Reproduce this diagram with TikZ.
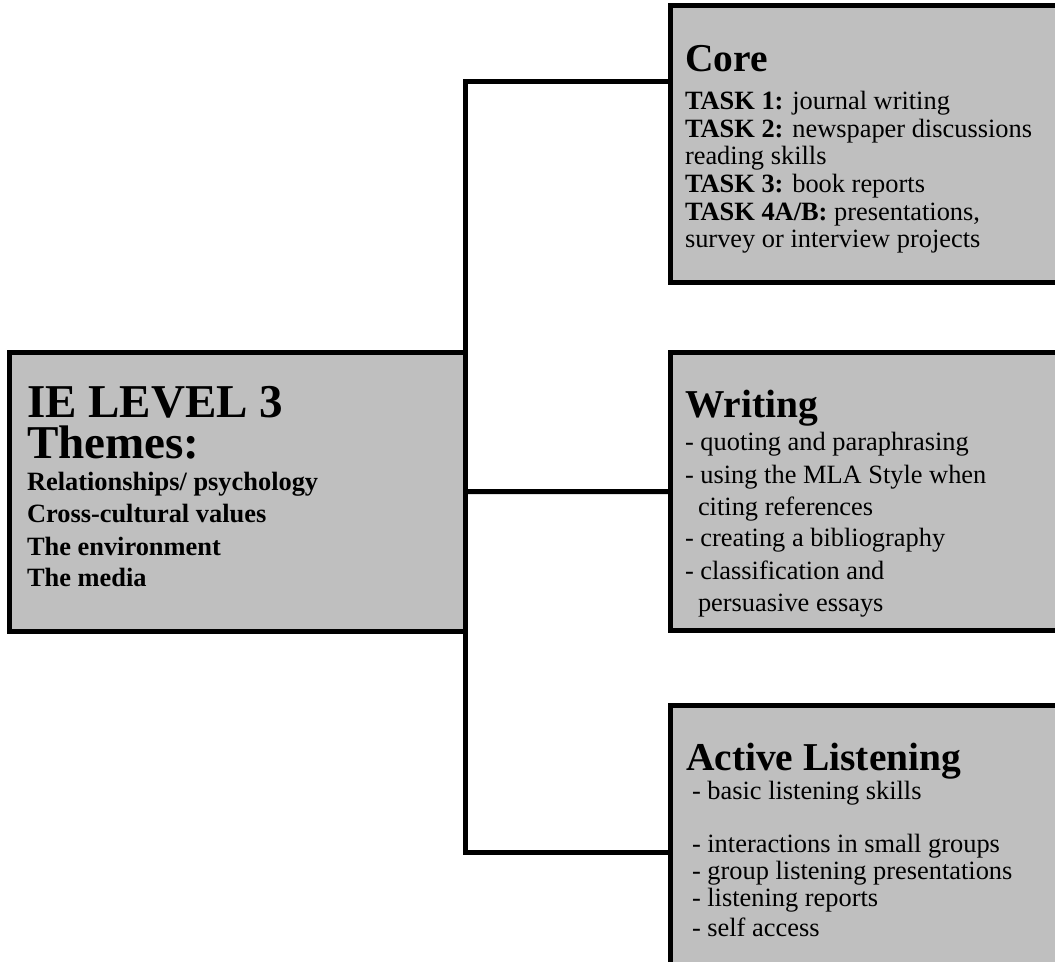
\documentclass[tikz,border=0pt]{standalone}
\usepackage{fontspec}
\setmainfont{Liberation Serif}
\definecolor{boxgray}{RGB}{191,191,191}
\begin{document}
\begin{tikzpicture}[x=0.75pt,y=-0.75pt,
  box/.style={draw=black,fill=boxgray,line width=3.75pt,rectangle,inner sep=0pt,outer sep=0pt},
  conn/.style={line width=3.75pt,line join=miter,draw=black},
  txt/.style={anchor=base west,inner sep=0pt,outer sep=0pt,text=black},
  body/.style={txt,font=\fontsize{19.8}{22}\selectfont},
  ttl/.style={txt,font=\fontsize{29.6}{32}\selectfont\bfseries},
  bigttl/.style={txt,align=left,font=\fontsize{35.3}{30.75}\selectfont\bfseries},
  item/.style={txt,font=\fontsize{19.8}{22}\selectfont\bfseries}]
\useasboundingbox (0,0) rectangle (1055,962);
\clip (0,0) rectangle (1055,962);
% boxes
\node[box,minimum width=341.5pt,minimum height=209.6pt] (main) at (237.35,491.75) {};
\node[box,minimum width=311.25pt,minimum height=207.75pt] (core) at (877.5,144) {};
\node[box,minimum width=311.25pt,minimum height=208.5pt] (writing) at (877.5,491.5) {};
\node[box,minimum width=311.25pt,minimum height=221.25pt] (active) at (877.5,852.5) {};
% connectors
\coordinate (jt) at (465.5,82);
\coordinate (jb) at (465.5,852.5);
\draw[conn] (core.west |- jt) -- (jt) -- (jb) -- (active.west);
\draw[conn] (main.east) -- (writing.west);
% main text
\node[bigttl] (m1) at (27,458) {IE LEVEL 3\\Themes:};
\node[item] (m3) at (27,490.7) {Relationships/ psychology};
\node[item] (m4) at (27,522.7) {Cross-cultural values};
\node[item] (m5) at (27,555) {The environment};
\node[item] (m6) at (27,586.7) {The media};
% core text
\node[ttl] (c0) at (685,72) {Core};
\node[body] (c1) at (685,109.7) {\textbf{TASK 1:} journal writing};
\node[body] (c2) at (685,137.3) {\textbf{TASK 2:} newspaper discussions};
\node[body] (c3) at (685,164.9) {reading skills};
\node[body] (c4) at (685,192.5) {\textbf{TASK 3:} book reports};
\node[body] (c5) at (685,220.1) {\textbf{TASK 4A/B:} presentations,};
\node[body] (c6) at (685,247.7) {survey or interview projects};
% writing text
\node[ttl] (w0) at (685,417) {Writing};
\node[body] (w1) at (685,450.7) {- quoting and paraphrasing};
\node[body] (w2) at (685,483.3) {- using the MLA Style when};
\node[body] (w3) at (698,515) {citing references};
\node[body] (w4) at (685,546.7) {- creating a bibliography};
\node[body] (w5) at (685,579.3) {- classification and};
\node[body] (w6) at (698,611.7) {persuasive essays};
% active listening text
\node[ttl] (a0) at (686,770.7) {Active Listening};
\node[body] (a1) at (692,799.3) {- basic listening skills};
\node[body] (a2) at (692,852.3) {- interactions in small groups};
\node[body] (a3) at (692,879.3) {- group listening presentations};
\node[body] (a4) at (692,906.7) {- listening reports};
\node[body] (a5) at (692,936.7) {- self access};
\end{tikzpicture}
\end{document}
